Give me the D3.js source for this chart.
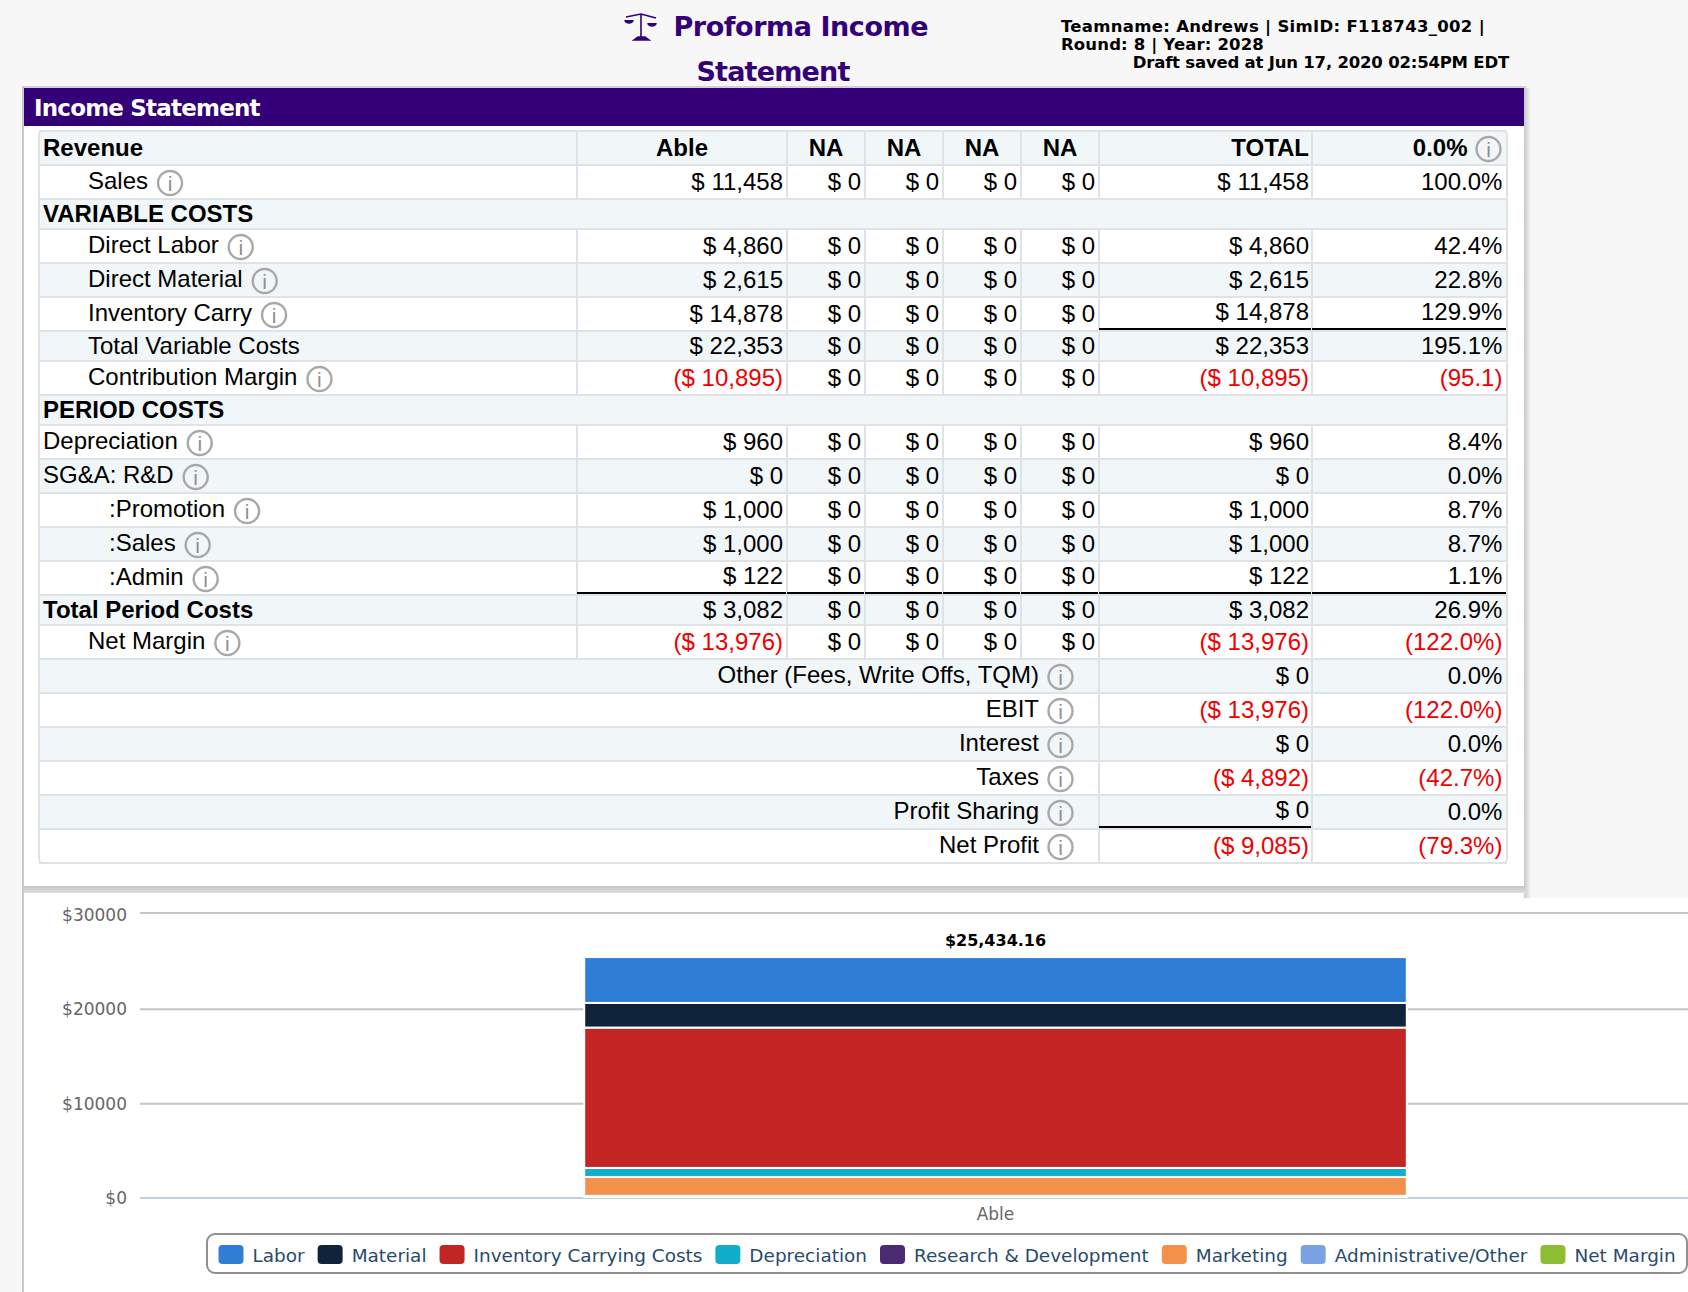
<!DOCTYPE html>
<html>
<head>
<meta charset="utf-8">
<title>Proforma Income Statement</title>
<script src="https://cdn.jsdelivr.net/npm/d3@7"></script>
<style>
  html, body { margin: 0; padding: 0; background: #f7f7f7; overflow: hidden; }
  svg { display: block; }
  .cell { font-family: "Liberation Sans", Arial, sans-serif; font-size: 24px; fill: #000; }
  .head { font-family: "DejaVu Sans", sans-serif; font-weight: bold; }
  .chart-text { font-family: "DejaVu Sans", sans-serif; }
</style>
</head>
<body>
<div id="page"></div>
<script>
// table values, one entry per row
const rowLabels = ['Revenue', 'Sales', 'VARIABLE COSTS', 'Direct Labor', 'Direct Material', 'Inventory Carry',
  'Total Variable Costs', 'Contribution Margin', 'PERIOD COSTS', 'Depreciation', 'SG&A: R&D', ':Promotion',
  ':Sales', ':Admin', 'Total Period Costs', 'Net Margin', 'Other (Fees, Write Offs, TQM)', 'EBIT', 'Interest',
  'Taxes', 'Profit Sharing', 'Net Profit'];
const ableValues = [null, 11458, null, 4860, 2615, 14878, 22353, -10895, null, 960, 0, 1000, 1000, 122, 3082, -13976,
  null, null, null, null, null, null];
const totalValues = [null, 11458, null, 4860, 2615, 14878, 22353, -10895, null, 960, 0, 1000, 1000, 122, 3082, -13976,
  0, -13976, 0, -4892, 0, -9085];
const pctLabels = ['0.0%', '100.0%', null, '42.4%', '22.8%', '129.9%', '195.1%', '(95.1)', null, '8.4%', '0.0%', '8.7%',
  '8.7%', '1.1%', '26.9%', '(122.0%)', '0.0%', '(122.0%)', '0.0%', '(42.7%)', '0.0%', '(79.3%)'];
const productNames = ['Able', 'NA', 'NA', 'NA', 'NA'];
const naValue = 0;

const boldRows = ['Revenue', 'VARIABLE COSTS', 'PERIOD COSTS', 'Total Period Costs'];
const noInfoRows = ['Revenue', 'VARIABLE COSTS', 'Total Variable Costs', 'PERIOD COSTS', 'Total Period Costs'];
const sectionRows = ['VARIABLE COSTS', 'PERIOD COSTS'];
const childRows = ['Sales', 'Direct Labor', 'Direct Material', 'Inventory Carry', 'Total Variable Costs',
  'Contribution Margin', 'Net Margin'];
const grandchildRows = [':Promotion', ':Sales', ':Admin'];

// chart values
const chartCategories = ['Able'];
const chartSeries = ['Labor', 'Material', 'Inventory Carrying Costs', 'Depreciation', 'Research & Development',
  'Marketing', 'Administrative/Other', 'Net Margin'];
const chartValues = [4860, 2615, 14878, 960, 0, 2000, 122, 0];
const chartColors = ['#2e7ed6', '#0f233b', '#c32424', '#10aecb', '#4c2a73', '#f3914a', '#78a2e3', '#8dbd33'];
const chartTicks = [0, 10000, 20000, 30000];
const chartTotal = '$25,434.16';

const width = 1688, height = 1292;
const purple = '#330077', lineColor = '#dfe3e5', red = '#ee0000';

const svg = d3.select('#page').append('svg').attr('width', width).attr('height', height);

const defs = svg.append('defs');
const bandGrad = defs.append('linearGradient').attr('id', 'bandGrad').attr('x1', 0).attr('x2', 0).attr('y1', 0).attr('y2', 1);
bandGrad.append('stop').attr('offset', 0).attr('stop-color', '#c6c6c6');
bandGrad.append('stop').attr('offset', 1).attr('stop-color', '#dedede');
const sideGrad = defs.append('linearGradient').attr('id', 'sideGrad');
sideGrad.append('stop').attr('offset', 0).attr('stop-color', '#c8c8c8');
sideGrad.append('stop').attr('offset', 1).attr('stop-color', '#f7f7f7');

// panels behind the table and the chart
svg.append('rect').attr('x', 1524).attr('y', 88).attr('width', 7).attr('height', 810).attr('fill', 'url(#sideGrad)');
svg.append('rect').attr('x', 22).attr('y', 86).attr('width', 1504).attr('height', 3).attr('fill', '#d2d2d2');
svg.append('rect').attr('x', 22).attr('y', 86).attr('width', 2).attr('height', height - 86).attr('fill', '#c8c8c8');
svg.append('rect').attr('x', 24).attr('y', 88).attr('width', 1500).attr('height', 798).attr('fill', '#fff');
svg.append('rect').attr('x', 24).attr('y', 886).attr('width', 1502).attr('height', 7).attr('fill', 'url(#bandGrad)');
svg.append('rect').attr('x', 24).attr('y', 893).attr('width', 1502).attr('height', height - 893).attr('fill', '#fff');
svg.append('rect').attr('x', 1524).attr('y', 893).attr('width', 2).attr('height', 5).attr('fill', '#d2d2d2');
svg.append('rect').attr('x', 1524).attr('y', 898).attr('width', width - 1524).attr('height', height - 898).attr('fill', '#fff');

// header bar and titles
svg.append('rect').attr('x', 24).attr('y', 88).attr('width', 1500).attr('height', 38).attr('fill', purple);
svg.append('text').attr('class', 'head').attr('x', 34).attr('y', 115.5)
  .attr('fill', '#fff').attr('font-size', 23).attr('letter-spacing', -0.8).text('Income Statement');

const titleG = svg.append('g').attr('class', 'head').attr('fill', purple).attr('font-size', 27);
titleG.append('text').attr('x', 673.5).attr('y', 36).attr('letter-spacing', -0.45).text('Proforma Income');
titleG.append('text').attr('x', 773).attr('y', 81).attr('text-anchor', 'middle').attr('letter-spacing', -0.8).text('Statement');

// balance icon next to the title
const scaleIcon = svg.append('g').attr('stroke', purple).attr('fill', 'none').attr('stroke-width', 1.6);
scaleIcon.append('path').attr('d', 'M641 14V38M626 17L641 14L656 18');
scaleIcon.append('path').attr('d', 'M625 20a4 3 0 0 0 8 0M648 23a4 3 0 0 0 8 0').attr('fill', purple);
scaleIcon.append('path').attr('d', 'M634 40H649L645 37H638Z').attr('fill', purple);

const infoG = svg.append('g').attr('class', 'head').attr('fill', '#000').attr('font-size', 16.5);
infoG.append('text').attr('x', 1061).attr('y', 32).attr('letter-spacing', 0.3).text('Teamname: Andrews | SimID: F118743_002 |');
infoG.append('text').attr('x', 1061).attr('y', 50).attr('letter-spacing', 0.15).text('Round: 8 | Year: 2028');
infoG.append('text').attr('x', 1509).attr('y', 68).attr('text-anchor', 'end').attr('letter-spacing', -0.2)
  .text('Draft saved at Jun 17, 2020 02:54PM EDT');

// ---- table ----
const colEdges = [39, 577, 787, 865, 943, 1021, 1099, 1312, 1507];
const tableTop = 131;
const hasInfo = label => !noInfoRows.includes(label);
const rowHeight = label => (hasInfo(label) || label === 'Revenue') ? 34 : 30;

const rows = [];
let yPos = tableTop;
rowLabels.forEach((label, i) => {
  rows.push({ label, i, y: yPos, h: rowHeight(label), able: ableValues[i], total: totalValues[i], pct: pctLabels[i] });
  yPos += rowHeight(label);
});

const money = d3.format(',');
const moneyText = v => v < 0 ? `($ ${money(-v)})` : `$ ${money(v)}`;
const labelX = label => grandchildRows.includes(label) ? 109 : childRows.includes(label) ? 88 : 43;

const table = svg.append('g');

function drawInfoIcon(g, cx, cy) {
  g.append('circle').attr('cx', cx).attr('cy', cy).attr('r', 12)
    .attr('fill', 'none').attr('stroke', '#a8a8a8').attr('stroke-width', 2.4);
  g.append('text').attr('x', cx).attr('y', cy + 8).attr('text-anchor', 'middle')
    .attr('font-family', '"Liberation Sans", sans-serif').attr('font-size', 21).attr('fill', '#8f8f8f').text('i');
}

const rowG = table.selectAll('g').data(rows).enter().append('g')
  .attr('transform', d => `translate(0,${d.y})`);

rowG.append('rect').attr('x', colEdges[0]).attr('width', colEdges[8] - colEdges[0])
  .attr('height', d => d.h).attr('fill', d => d.i % 2 === 0 ? '#f1f6f9' : '#fff');

// horizontal and vertical rules
rowG.append('line').attr('x1', colEdges[0]).attr('x2', colEdges[8]).attr('y1', 0).attr('y2', 0)
  .attr('stroke', lineColor).attr('stroke-width', 2);

rowG.each(function (d) {
  const g = d3.select(this);
  const isSection = sectionRows.includes(d.label);
  const isSummary = d.able === null && d.total !== null;
  const edges = isSection ? [] : isSummary ? [1099, 1312] : colEdges.slice(1, 8);
  edges.forEach(x => g.append('line').attr('x1', x).attr('x2', x).attr('y1', 0).attr('y2', d.h)
    .attr('stroke', lineColor).attr('stroke-width', 2));

  const bold = boldRows.includes(d.label);
  const labelBase = d.h === 34 ? 23.5 : 23;

  if (isSummary) {
    g.append('text').attr('class', 'cell').attr('x', 1039).attr('y', labelBase)
      .attr('text-anchor', 'end').text(d.label);
    drawInfoIcon(g, 1060.5, 18);
  } else {
    const label = g.append('text').attr('class', 'cell').attr('x', labelX(d.label)).attr('y', labelBase)
      .attr('font-weight', bold ? 'bold' : null).text(d.label);
    if (hasInfo(d.label)) {
      drawInfoIcon(g, labelX(d.label) + label.node().getComputedTextLength() + 22, 18);
    }
  }
});

// header row cells
const headRow = rowG.filter(d => d.label === 'Revenue');
headRow.select('text').attr('y', 25);
productNames.forEach((name, k) => {
  headRow.append('text').attr('class', 'cell').attr('font-weight', 'bold').attr('text-anchor', 'middle')
    .attr('x', (colEdges[k + 1] + colEdges[k + 2]) / 2).attr('y', 25).text(name);
});
headRow.append('text').attr('class', 'cell').attr('font-weight', 'bold').attr('text-anchor', 'end')
  .attr('x', 1309).attr('y', 25).text('TOTAL');
headRow.append('text').attr('class', 'cell').attr('font-weight', 'bold').attr('text-anchor', 'end')
  .attr('x', 1467.5).attr('y', 25).text(d => d.pct);
headRow.each(function () { drawInfoIcon(d3.select(this), 1488.5, 18); });

// underlined cells sit a little higher
const underlined = { 'Inventory Carry': [6, 7], ':Admin': [1, 2, 3, 4, 5, 6, 7], 'Profit Sharing': [6] };
const valueBase = (d, col) => {
  const under = (underlined[d.label] || []).includes(col);
  return (d.h === 34 ? 24.6 : 23) - (under ? 1.3 : 0);
};

function valueCell(g, d, col, text, right) {
  g.append('text').attr('class', 'cell').attr('text-anchor', 'end')
    .attr('x', right).attr('y', valueBase(d, col)).style('fill', text.startsWith('(') ? red : null).text(text);
}

rowG.filter(d => d.i > 0).each(function (d) {
  const g = d3.select(this);
  if (d.able !== null) {
    valueCell(g, d, 1, moneyText(d.able), colEdges[2] - 4);
    [2, 3, 4, 5].forEach(k => valueCell(g, d, k, moneyText(naValue), colEdges[k + 1] - 4));
  }
  if (d.total !== null) valueCell(g, d, 6, moneyText(d.total), colEdges[7] - 3);
  if (d.pct !== null) valueCell(g, d, 7, d.pct, colEdges[8] - 4.6);
});

// closing line of the table
table.append('line').attr('x1', colEdges[0]).attr('x2', colEdges[8]).attr('y1', yPos).attr('y2', yPos)
  .attr('stroke', lineColor).attr('stroke-width', 2);
table.append('rect').attr('x', colEdges[0]).attr('y', tableTop).attr('width', colEdges[8] - colEdges[0])
  .attr('height', yPos - tableTop).attr('rx', 4).attr('fill', 'none').attr('stroke', lineColor).attr('stroke-width', 2);

// black subtotal rules
rows.forEach(d => {
  (underlined[d.label] || []).forEach(col => {
    table.append('line').attr('x1', colEdges[col]).attr('x2', colEdges[col + 1] - 1)
      .attr('y1', d.y + d.h - 2).attr('y2', d.y + d.h - 2).attr('stroke', '#000').attr('stroke-width', 2);
  });
});

// ---- chart ----
const plotLeft = 140, plotRight = 1851, plotBottom = 1198, plotTop = 915;
const x = d3.scaleBand().domain(chartCategories).range([plotLeft, plotRight]).paddingInner(0).paddingOuter(0.54);
const y = d3.scaleLinear().domain([0, 30000]).range([plotBottom, plotTop]);

const yAxis = svg.append('g').attr('class', 'chart-text').attr('transform', `translate(${plotLeft},0)`)
  .call(d3.axisLeft(y).offset(0).tickValues(chartTicks).tickFormat(d => '$' + d)
    .tickSize(-(plotRight - plotLeft)).tickPadding(13));
yAxis.select('.domain').remove();
yAxis.selectAll('.tick line').attr('stroke', d => d === 0 ? '#c0d0e0' : '#c4c4c4').attr('stroke-width', 2)
  // the top gridline sits 2px above its label in the original
  .attr('transform', d => d === 30000 ? 'translate(0,-2)' : null);
yAxis.selectAll('.tick text').attr('fill', '#666').attr('font-size', 17).attr('dy', '0.36em');

// Highcharts style stacking: first series on top
const stackRow = { category: chartCategories[0] };
chartSeries.forEach((s, i) => { stackRow[s] = chartValues[i]; });
const stacked = d3.stack().keys(chartSeries.slice().reverse())([stackRow]);

svg.append('g').attr('transform', 'translate(0,-1)').selectAll('rect')
  .data(stacked.filter(s => s[0][1] > s[0][0]))
  .enter().append('rect')
  .attr('x', x(chartCategories[0]))
  .attr('width', x.bandwidth())
  .attr('y', d => y(d[0][1]))
  .attr('height', d => y(d[0][0]) - y(d[0][1]))
  .attr('fill', d => chartColors[chartSeries.indexOf(d.key)])
  .attr('stroke', '#fff').attr('stroke-width', 2);

svg.append('text').attr('class', 'chart-text').attr('x', x(chartCategories[0]) + x.bandwidth() / 2)
  .attr('y', y(d3.sum(chartValues)) - 12).attr('text-anchor', 'middle')
  .attr('font-size', 16).attr('font-weight', 'bold').attr('fill', '#000').text(chartTotal);

const xAxis = svg.append('g').attr('class', 'chart-text').attr('transform', `translate(0,${plotBottom})`)
  .call(d3.axisBottom(x).offset(0).tickSize(0).tickPadding(10));
xAxis.select('.domain').remove();
xAxis.selectAll('text').attr('fill', '#666').attr('font-size', 17);

// legend
const legendTop = 1234, legendBottom = 1273, legendLeft = 207;
svg.append('rect').attr('x', legendLeft).attr('y', legendTop).attr('width', 1687 - legendLeft)
  .attr('height', legendBottom - legendTop).attr('rx', 8)
  .attr('fill', '#fff').attr('stroke', '#909090').attr('stroke-width', 2);

let legendX = 218.5;
chartSeries.forEach((name, i) => {
  const g = svg.append('g').attr('transform', `translate(${legendX},0)`);
  g.append('rect').attr('y', 1245).attr('width', 25).attr('height', 19).attr('rx', 4).attr('fill', chartColors[i]);
  const t = g.append('text').attr('class', 'chart-text').attr('x', 34).attr('y', 1262)
    .attr('font-size', 18.45).attr('fill', '#274b6d').text(name);
  legendX += 34 + t.node().getComputedTextLength() + 13;
});
</script>
</body>
</html>
